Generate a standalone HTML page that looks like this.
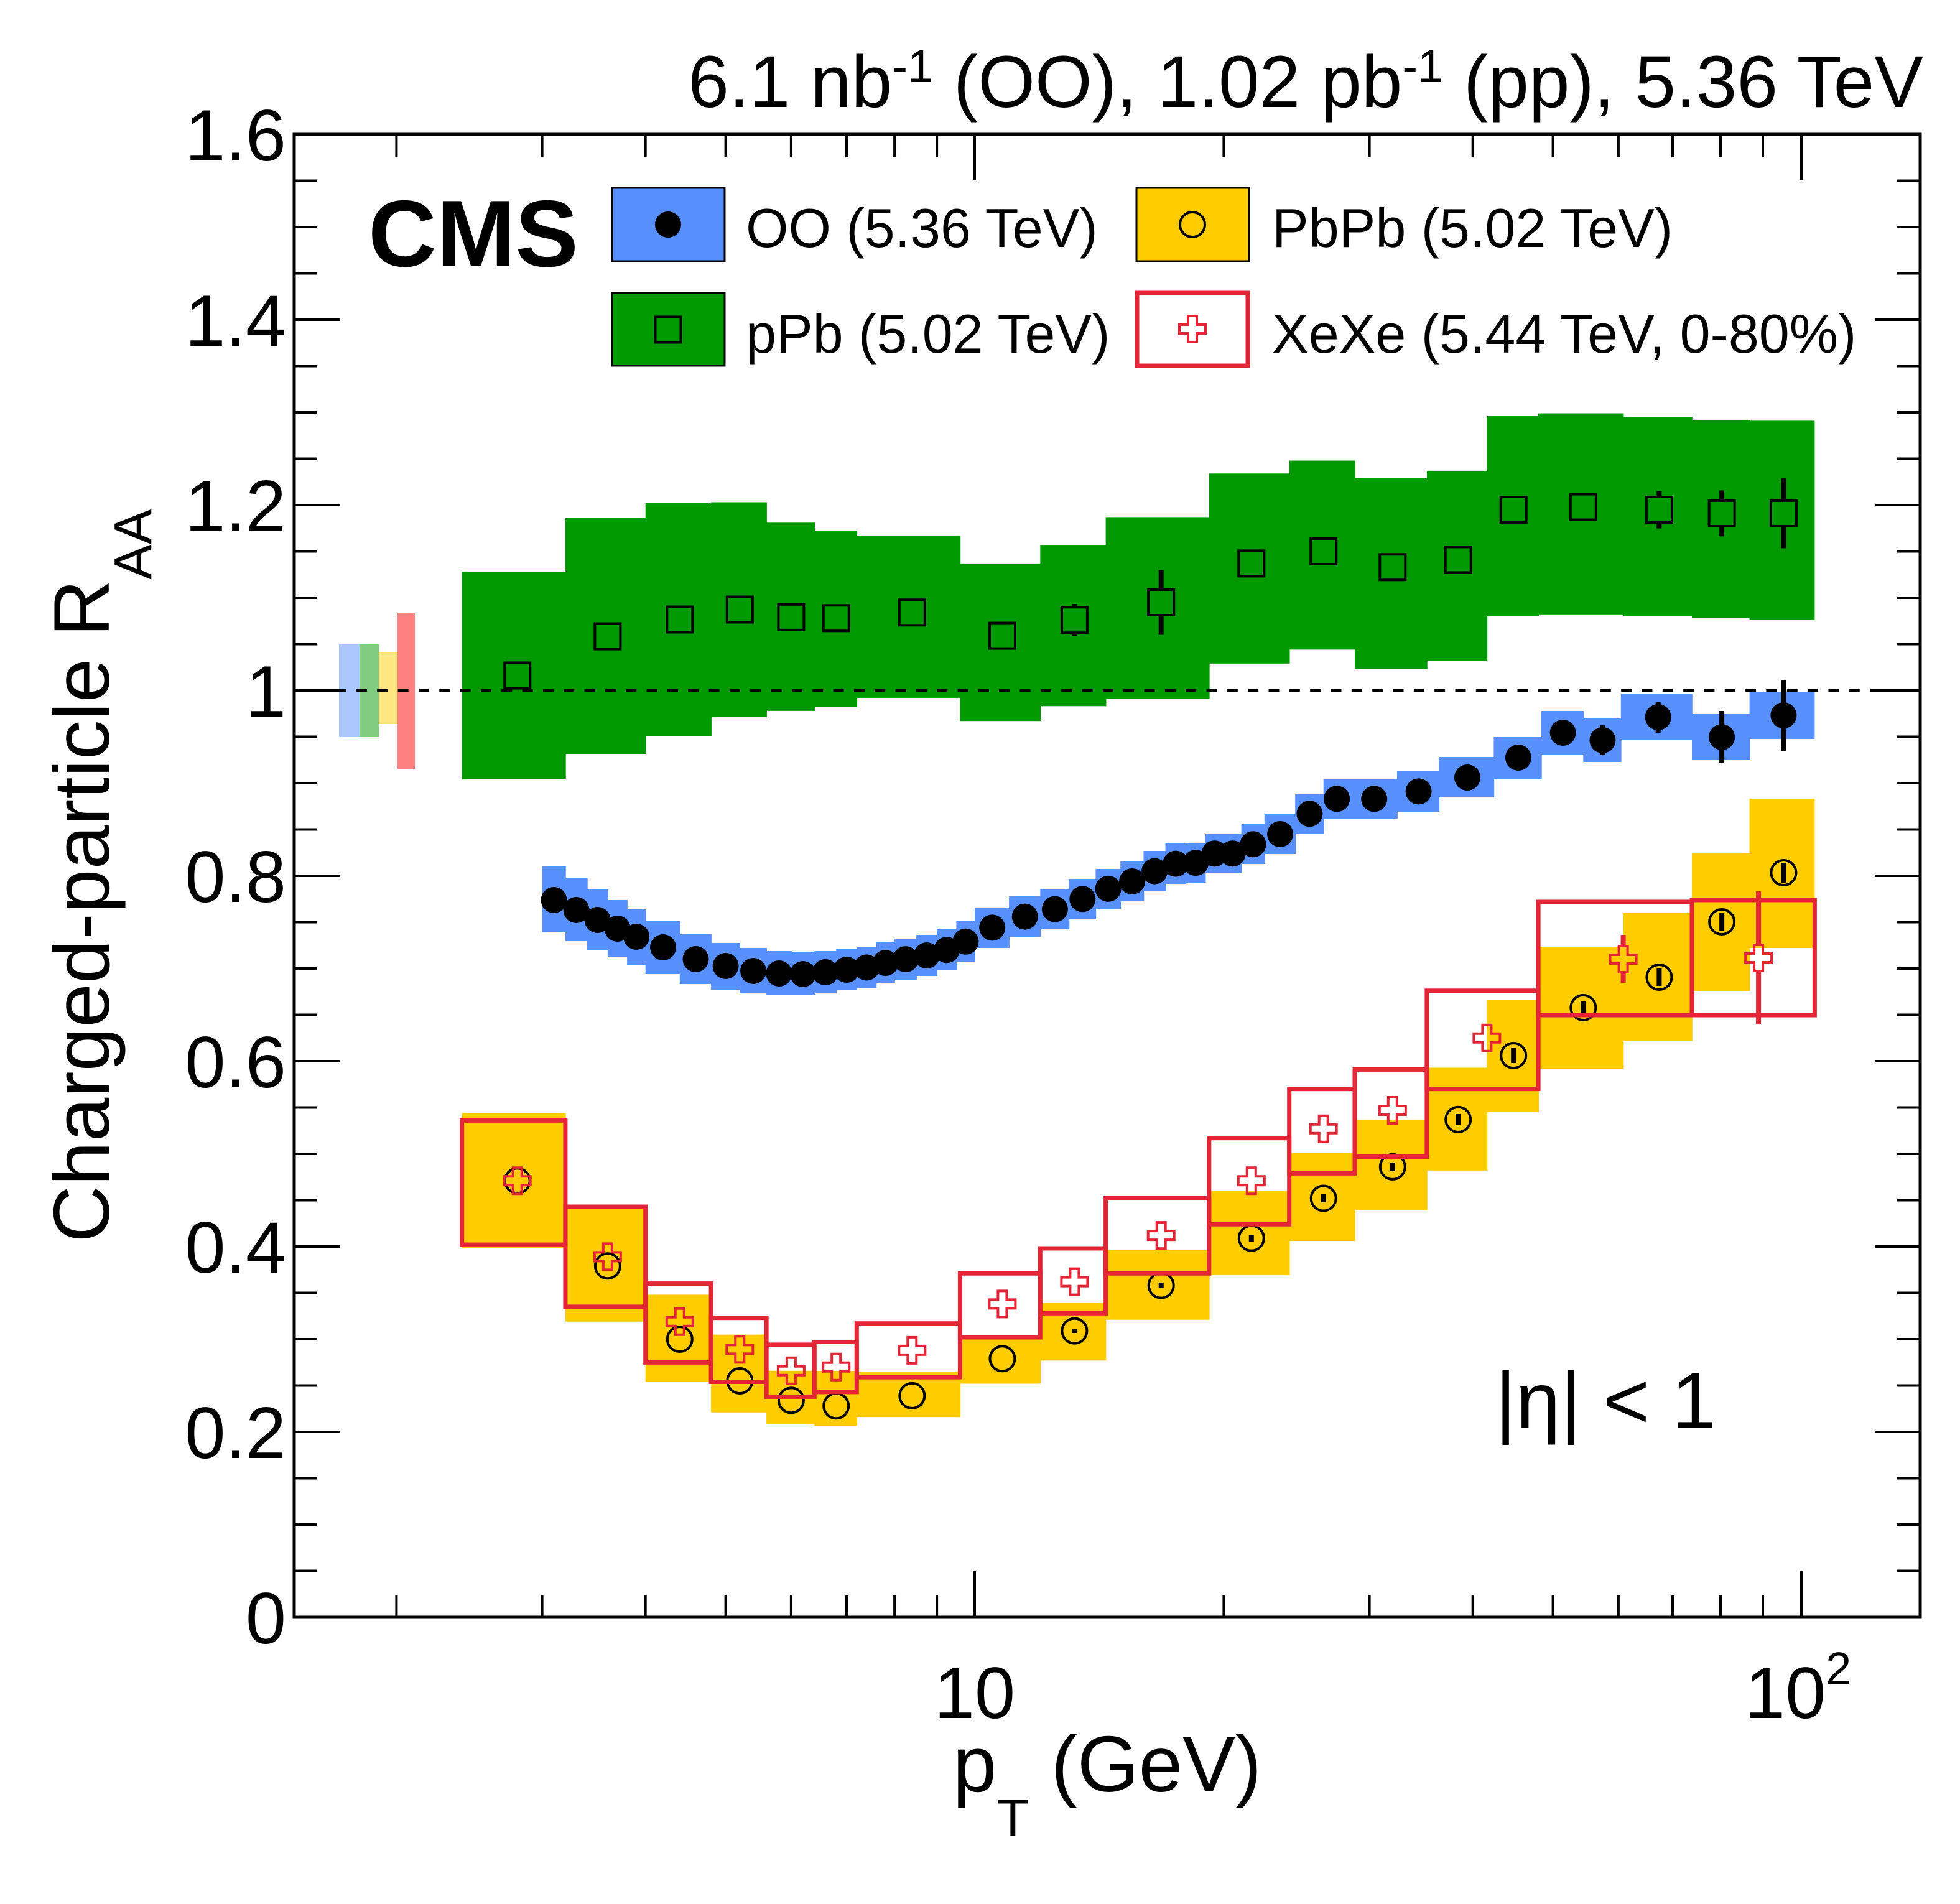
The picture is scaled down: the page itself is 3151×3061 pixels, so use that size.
<!DOCTYPE html>
<html><head><meta charset="utf-8"><style>
html,body{margin:0;padding:0;background:#fff;}
svg{display:block;}
text{font-family:"Liberation Sans",Helvetica,Arial,sans-serif;fill:#000;}
</style></head><body>
<svg xmlns="http://www.w3.org/2000/svg" width="3151" height="3061" viewBox="0 0 3151 3061">
<defs>
<circle id="dot" r="21" fill="#000"/>
<circle id="circ" r="20" fill="none" stroke="#000" stroke-width="4"/>
<rect id="sq" x="-20.5" y="-20.5" width="41" height="41" fill="none" stroke="#000" stroke-width="4"/>
<path id="cross" d="M-7,-21H7V-7H21V7H7V21H-7V7H-21V-7H-7Z" fill="none" stroke="#e42536" stroke-width="4"/>
</defs>
<rect width="3151" height="3061" fill="#fff"/>

<g fill="#009900">
<rect x="742.7" y="919" width="167" height="334"/>
<rect x="908.9" y="832.9" width="129.6" height="379.1"/>
<rect x="1037.7" y="809" width="106.2" height="375"/>
<rect x="1143.1" y="807.5" width="89.8" height="345.5"/>
<rect x="1232.1" y="840.3" width="77.9" height="302.5"/>
<rect x="1309.2" y="853.7" width="68.9" height="283.1"/>
<rect x="1377.3" y="861.2" width="166.9" height="260.7"/>
<rect x="1543.4" y="905.9" width="129.7" height="253.3"/>
<rect x="1672.3" y="876.1" width="106.1" height="259.2"/>
<rect x="1777.6" y="831.4" width="167" height="292"/>
<rect x="1943.8" y="761.3" width="129.7" height="305.5"/>
<rect x="2072.7" y="740.5" width="106.1" height="303.9"/>
<rect x="2178" y="768.8" width="116.7" height="306.9"/>
<rect x="2293.9" y="756.9" width="97.3" height="305.4"/>
<rect x="2390.4" y="668.9" width="83.5" height="321.9"/>
<rect x="2473.1" y="664.5" width="137.3" height="323.3"/>
<rect x="2609.6" y="670.5" width="111.2" height="320.3"/>
<rect x="2720" y="674.9" width="93.4" height="318.9"/>
<rect x="2812.6" y="676.4" width="104.8" height="320.4"/>
</g>

<rect x="545" y="1036" width="33.5" height="149" fill="#abc7fd"/>
<rect x="578" y="1036" width="31.5" height="149" fill="#80cc80"/>
<rect x="609" y="1049" width="30.5" height="115" fill="#ffe680"/>
<rect x="639" y="985" width="28" height="251" fill="#ff8080"/>

<g fill="#5790fc">
<rect x="871.6" y="1393" width="38.1" height="106"/>
<rect x="908.9" y="1412" width="35.8" height="101"/>
<rect x="943.9" y="1430" width="33.8" height="97"/>
<rect x="976.9" y="1447" width="32" height="92"/>
<rect x="1008.1" y="1461" width="30.4" height="90"/>
<rect x="1037.7" y="1481" width="55.9" height="85"/>
<rect x="1092.8" y="1502" width="51.1" height="80"/>
<rect x="1143.1" y="1516" width="47" height="75"/>
<rect x="1189.3" y="1524" width="43.6" height="73"/>
<rect x="1232.1" y="1529" width="40.6" height="71"/>
<rect x="1271.9" y="1531" width="38.1" height="69"/>
<rect x="1309.2" y="1529" width="35.8" height="68"/>
<rect x="1344.2" y="1526" width="33.9" height="66"/>
<rect x="1377.3" y="1522.5" width="32" height="66"/>
<rect x="1408.5" y="1515" width="30.4" height="66"/>
<rect x="1438.1" y="1509" width="35.8" height="66"/>
<rect x="1473.1" y="1503" width="33.8" height="66"/>
<rect x="1506.1" y="1494" width="32.1" height="66"/>
<rect x="1537.4" y="1481" width="30.4" height="66"/>
<rect x="1567" y="1459" width="55.9" height="65"/>
<rect x="1622.1" y="1441" width="51" height="65"/>
<rect x="1672.3" y="1429" width="47" height="65"/>
<rect x="1718.5" y="1413" width="43.7" height="65"/>
<rect x="1761.4" y="1397" width="40.6" height="64"/>
<rect x="1801.2" y="1385" width="38.1" height="64"/>
<rect x="1838.5" y="1368" width="35.8" height="65"/>
<rect x="1873.5" y="1356" width="33.8" height="65"/>
<rect x="1906.5" y="1355" width="32" height="64"/>
<rect x="1937.7" y="1340" width="30.5" height="64"/>
<rect x="1967.4" y="1340" width="29" height="64"/>
<rect x="1995.6" y="1325" width="38" height="64"/>
<rect x="2032.8" y="1309" width="50.2" height="64"/>
<rect x="2082.2" y="1276" width="46.3" height="64"/>
<rect x="2127.7" y="1252" width="43" height="64"/>
<rect x="2169.9" y="1252" width="76.9" height="64"/>
<rect x="2246" y="1240" width="68.1" height="65"/>
<rect x="2313.3" y="1217" width="88.9" height="65"/>
<rect x="2401.4" y="1185" width="77.3" height="67"/>
<rect x="2477.9" y="1143" width="68.2" height="70"/>
<rect x="2545.3" y="1155" width="61.3" height="70"/>
<rect x="2605.8" y="1116" width="115" height="73"/>
<rect x="2720" y="1148" width="93.4" height="74"/>
<rect x="2812.6" y="1112" width="104.8" height="76"/>
</g>

<g fill="#ffcc00">
<rect x="742.7" y="1789.4" width="167" height="217.6"/>
<rect x="908.9" y="1940" width="129.6" height="184.7"/>
<rect x="1037.7" y="2081.5" width="106.2" height="140"/>
<rect x="1143.1" y="2145.6" width="89.8" height="125.1"/>
<rect x="1232.1" y="2203.7" width="77.9" height="86.4"/>
<rect x="1309.2" y="2204" width="68.9" height="88"/>
<rect x="1377.3" y="2205.2" width="166.9" height="73"/>
<rect x="1543.4" y="2151.5" width="129.7" height="73"/>
<rect x="1672.3" y="2094.9" width="106.1" height="92.4"/>
<rect x="1777.6" y="2009.9" width="167" height="111.8"/>
<rect x="1943.8" y="1914.6" width="129.7" height="135.6"/>
<rect x="2072.7" y="1853.5" width="106.1" height="141.6"/>
<rect x="2178" y="1799.9" width="116.7" height="146"/>
<rect x="2293.9" y="1716.4" width="97.3" height="165.4"/>
<rect x="2390.4" y="1608" width="83.5" height="180"/>
<rect x="2473.1" y="1522" width="137.3" height="196"/>
<rect x="2609.6" y="1468" width="111.2" height="206"/>
<rect x="2720" y="1371" width="93.4" height="223"/>
<rect x="2812.6" y="1284" width="104.8" height="240"/>
</g>

<line x1="473" y1="1110" x2="3087" y2="1110" stroke="#000" stroke-width="4" stroke-dasharray="17 16.33"/>

<g>
<use href="#sq" x="831.7" y="1086"/>
<use href="#sq" x="976.9" y="1023"/>
<use href="#sq" x="1092.8" y="996"/>
<use href="#sq" x="1189.3" y="980"/>
<use href="#sq" x="1271.9" y="992.3"/>
<use href="#sq" x="1344.2" y="993.8"/>
<use href="#sq" x="1466.3" y="984.8"/>
<use href="#sq" x="1611.4" y="1022.1"/>
<use href="#sq" x="1727.4" y="996.8"/>
<use href="#sq" x="1866.7" y="968.5"/>
<use href="#sq" x="2011.8" y="905.9"/>
<use href="#sq" x="2127.7" y="886.5"/>
<use href="#sq" x="2238.8" y="911.8"/>
<use href="#sq" x="2344.2" y="899.9"/>
<use href="#sq" x="2433.2" y="819.5"/>
<use href="#sq" x="2545.3" y="815"/>
<use href="#sq" x="2667.4" y="819.5"/>
<use href="#sq" x="2768.1" y="825.4"/>
<use href="#sq" x="2867.4" y="825.4"/>
</g>
<path d="M1727.4 971V974.3M1727.4 1019.3V1022M1866.7 916.5V946M1866.7 991V1020.5M2667.4 789.5V797M2667.4 842V849.5M2768.1 788.4V802.9M2768.1 847.9V862.4M2867.4 769V802.9M2867.4 847.9V881.4" stroke="#000" stroke-width="8" fill="none"/>

<g>
<use href="#dot" x="890.5" y="1447"/>
<use href="#dot" x="926.6" y="1463"/>
<use href="#dot" x="960.6" y="1479"/>
<use href="#dot" x="992.7" y="1493"/>
<use href="#dot" x="1023.1" y="1506"/>
<use href="#dot" x="1066" y="1523"/>
<use href="#dot" x="1118.5" y="1542"/>
<use href="#dot" x="1166.6" y="1553"/>
<use href="#dot" x="1211.1" y="1561"/>
<use href="#dot" x="1252.4" y="1565"/>
<use href="#dot" x="1290.9" y="1566"/>
<use href="#dot" x="1327" y="1563"/>
<use href="#dot" x="1361" y="1559"/>
<use href="#dot" x="1393.1" y="1555.5"/>
<use href="#dot" x="1423.5" y="1548.1"/>
<use href="#dot" x="1455.9" y="1542.1"/>
<use href="#dot" x="1489.9" y="1536.1"/>
<use href="#dot" x="1522" y="1527.2"/>
<use href="#dot" x="1552.4" y="1513.8"/>
<use href="#dot" x="1595.2" y="1491.4"/>
<use href="#dot" x="1647.7" y="1473.6"/>
<use href="#dot" x="1695.9" y="1461.6"/>
<use href="#dot" x="1740.3" y="1445.3"/>
<use href="#dot" x="1781.6" y="1428.9"/>
<use href="#dot" x="1820.1" y="1417"/>
<use href="#dot" x="1856.2" y="1400.6"/>
<use href="#dot" x="1890.2" y="1388.6"/>
<use href="#dot" x="1922.3" y="1387.1"/>
<use href="#dot" x="1952.7" y="1372.2"/>
<use href="#dot" x="1981.6" y="1372.2"/>
<use href="#dot" x="2014.5" y="1357.3"/>
<use href="#dot" x="2058.1" y="1341"/>
<use href="#dot" x="2105.4" y="1308.2"/>
<use href="#dot" x="2149.2" y="1284.3"/>
<use href="#dot" x="2209.2" y="1284.3"/>
<use href="#dot" x="2280.6" y="1272.4"/>
<use href="#dot" x="2359" y="1250"/>
<use href="#dot" x="2440.9" y="1218"/>
<use href="#dot" x="2512.6" y="1178"/>
<use href="#dot" x="2576.4" y="1190"/>
<use href="#dot" x="2665.7" y="1153"/>
<use href="#dot" x="2768.1" y="1185"/>
<use href="#dot" x="2867.4" y="1150"/>
</g>
<path d="M2576.4 1166V1172M2576.4 1208V1214M2665.7 1128V1135M2665.7 1171V1178M2768.1 1143V1168M2768.1 1202V1227M2867.4 1093V1133M2867.4 1167V1207" stroke="#000" stroke-width="8" fill="none"/>

<g>
<use href="#circ" x="831.7" y="1898.2"/>
<use href="#circ" x="976.9" y="2035.3"/>
<use href="#circ" x="1092.8" y="2153"/>
<use href="#circ" x="1189.3" y="2220"/>
<use href="#circ" x="1271.9" y="2251.3"/>
<use href="#circ" x="1344.2" y="2260.3"/>
<use href="#circ" x="1466.3" y="2243.9"/>
<use href="#circ" x="1611.4" y="2184.3"/>
<use href="#circ" x="1727.4" y="2139.6"/>
<use href="#circ" x="1866.7" y="2066.6"/>
<use href="#circ" x="2011.8" y="1990.6"/>
<use href="#circ" x="2127.7" y="1926.5"/>
<use href="#circ" x="2238.8" y="1875.9"/>
<use href="#circ" x="2344.2" y="1799.9"/>
<use href="#circ" x="2433.2" y="1697"/>
<use href="#circ" x="2545.3" y="1620"/>
<use href="#circ" x="2667.4" y="1571"/>
<use href="#circ" x="2768.1" y="1482"/>
<use href="#circ" x="2867.4" y="1403"/>
</g>
<path d="M1727.4 2136V2143M1866.7 2062V2071M2011.8 1985V1996M2127.7 1920V1933M2238.8 1869V1883M2344.2 1791V1809M2433.2 1685V1709M2545.3 1610V1630M2667.4 1557V1585M2768.1 1468V1496M2867.4 1387V1419" stroke="#000" stroke-width="8" fill="none"/>

<g fill="none" stroke="#e42536" stroke-width="7">
<rect x="742.7" y="1801.4" width="166.2" height="199.6"/>
<rect x="908.9" y="1940" width="128.8" height="160.9"/>
<rect x="1037.7" y="2063.6" width="105.4" height="126.7"/>
<rect x="1143.1" y="2118.7" width="89" height="102.8"/>
<rect x="1232.1" y="2161.9" width="77.1" height="83.5"/>
<rect x="1309.2" y="2157.5" width="68.1" height="80.4"/>
<rect x="1377.3" y="2127.7" width="166.1" height="86.4"/>
<rect x="1543.4" y="2047.2" width="128.9" height="102.8"/>
<rect x="1672.3" y="2007" width="105.3" height="104.3"/>
<rect x="1777.6" y="1926.5" width="166.2" height="120.7"/>
<rect x="1943.8" y="1829.7" width="128.9" height="138.5"/>
<rect x="2072.7" y="1750.7" width="105.3" height="135.6"/>
<rect x="2178" y="1719.4" width="115.9" height="140.1"/>
<rect x="2293.9" y="1592.8" width="179.2" height="157.9"/>
<rect x="2473.1" y="1450" width="246.9" height="182"/>
<rect x="2720" y="1447" width="197.4" height="185"/>
</g>

<g>
<use href="#cross" x="831.7" y="1898.2"/>
<use href="#cross" x="976.9" y="2020.4"/>
<use href="#cross" x="1092.8" y="2124.7"/>
<use href="#cross" x="1189.3" y="2169.4"/>
<use href="#cross" x="1271.9" y="2203.7"/>
<use href="#cross" x="1344.2" y="2197.7"/>
<use href="#cross" x="1466.3" y="2170.9"/>
<use href="#cross" x="1611.4" y="2096.4"/>
<use href="#cross" x="1727.4" y="2060.6"/>
<use href="#cross" x="1866.7" y="1986.1"/>
<use href="#cross" x="2011.8" y="1898.2"/>
<use href="#cross" x="2127.7" y="1814.8"/>
<use href="#cross" x="2238.8" y="1785"/>
<use href="#cross" x="2390.4" y="1668.8"/>
<use href="#cross" x="2609.6" y="1542"/>
<use href="#cross" x="2827.1" y="1540"/>
</g>
<path d="M2609.6 1503V1519M2609.6 1565V1580M2827.1 1433V1517M2827.1 1563V1647" stroke="#e42536" stroke-width="8" fill="none"/>

<rect x="473" y="216" width="2614" height="2384" fill="none" stroke="#000" stroke-width="5"/>
<path fill="none" stroke="#000" stroke-width="4" d="M473 2600h73M473 2302h73M473 2004h73M473 1706h73M473 1408h73M473 1110h73M473 812h73M473 514h73M473 216h73M473 2525.5h37M473 2451h37M473 2376.5h37M473 2227.5h37M473 2153h37M473 2078.5h37M473 1929.5h37M473 1855h37M473 1780.5h37M473 1631.5h37M473 1557h37M473 1482.5h37M473 1333.5h37M473 1259h37M473 1184.5h37M473 1035.5h37M473 961h37M473 886.5h37M473 737.5h37M473 663h37M473 588.5h37M473 439.5h37M473 365h37M473 290.5h37M3087 2600h-73M3087 2302h-73M3087 2004h-73M3087 1706h-73M3087 1408h-73M3087 1110h-73M3087 812h-73M3087 514h-73M3087 216h-73M3087 2525.5h-37M3087 2451h-37M3087 2376.5h-37M3087 2227.5h-37M3087 2153h-37M3087 2078.5h-37M3087 1929.5h-37M3087 1855h-37M3087 1780.5h-37M3087 1631.5h-37M3087 1557h-37M3087 1482.5h-37M3087 1333.5h-37M3087 1259h-37M3087 1184.5h-37M3087 1035.5h-37M3087 961h-37M3087 886.5h-37M3087 737.5h-37M3087 663h-37M3087 588.5h-37M3087 439.5h-37M3087 365h-37M3087 290.5h-37M1567 2600v-74M2896 2600v-74M637.4 2600v-36M871.6 2600v-36M1037.7 2600v-36M1166.6 2600v-36M1271.9 2600v-36M1361 2600v-36M1438.1 2600v-36M1506.1 2600v-36M1967.4 2600v-36M2201.6 2600v-36M2367.7 2600v-36M2496.6 2600v-36M2601.9 2600v-36M2689 2600v-36M2766 2600v-36M2834 2600v-36M1567 216v74M2896 216v74M637.4 216v36M871.6 216v36M1037.7 216v36M1166.6 216v36M1271.9 216v36M1361 216v36M1438.1 216v36M1506.1 216v36M1967.4 216v36M2201.6 216v36M2367.7 216v36M2496.6 216v36M2601.9 216v36M2689 216v36M2766 216v36M2834 216v36"/>

<g font-size="117" text-anchor="end">
<text x="460" y="2642">0</text>
<text x="460" y="2344">0.2</text>
<text x="460" y="2046">0.4</text>
<text x="460" y="1748">0.6</text>
<text x="460" y="1450">0.8</text>
<text x="460" y="1152">1</text>
<text x="460" y="854">1.2</text>
<text x="460" y="556">1.4</text>
<text x="460" y="258">1.6</text>
</g>
<text x="1567" y="2762" font-size="117" text-anchor="middle">10</text>
<text x="2805" y="2762" font-size="117">10<tspan font-size="74" dy="-54">2</tspan></text>

<text x="1780" y="2880" font-size="127" text-anchor="middle">p<tspan font-size="85" dy="72">T</tspan><tspan dy="-72"> (GeV)</tspan></text>
<text transform="translate(175,1408) rotate(-90)" font-size="127" text-anchor="middle">Charged-particle R<tspan font-size="85" dy="68">AA</tspan></text>

<text x="3092" y="172" font-size="118" text-anchor="end">6.1 nb<tspan font-size="74" dy="-40">-1</tspan><tspan dy="40"> (OO), 1.02 pb</tspan><tspan font-size="74" dy="-40">-1</tspan><tspan dy="40"> (pp), 5.36 TeV</tspan></text>

<text x="592" y="428" font-size="152" font-weight="bold">CMS</text>

<text x="2404" y="2296" font-size="128">|η| &lt; 1</text>

<rect x="984" y="302" width="181" height="118" fill="#5790fc" stroke="#000" stroke-width="3"/>
<use href="#dot" x="1074" y="361"/>
<rect x="984" y="471" width="181" height="117" fill="#009900" stroke="#000" stroke-width="3"/>
<use href="#sq" x="1074" y="530"/>
<rect x="1827" y="302" width="181" height="118" fill="#ffcc00" stroke="#000" stroke-width="3"/>
<use href="#circ" x="1917" y="361"/>
<rect x="1828" y="471" width="178" height="117" fill="#fff" stroke="#e42536" stroke-width="7"/>
<use href="#cross" x="1917" y="529"/>
<g font-size="88">
<text x="1199" y="397">OO (5.36 TeV)</text>
<text x="1199" y="567">pPb (5.02 TeV)</text>
<text x="2045" y="397">PbPb (5.02 TeV)</text>
<text x="2045" y="567">XeXe (5.44 TeV, 0-80%)</text>
</g>
</svg>
</body></html>
